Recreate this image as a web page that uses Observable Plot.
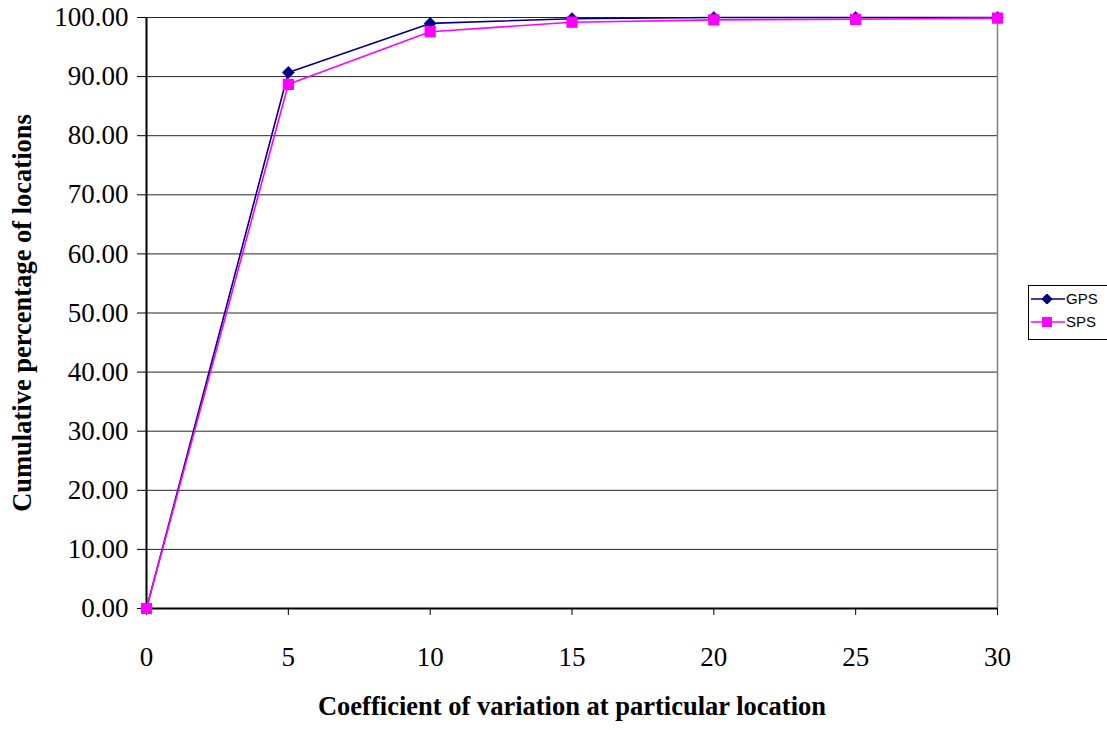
<!DOCTYPE html>
<html>
<head>
<meta charset="utf-8">
<script src="https://cdn.jsdelivr.net/npm/d3@7"></script>
<script src="https://cdn.jsdelivr.net/npm/@observablehq/plot@0.6"></script>
<style>
  html, body { margin: 0; padding: 0; background: #fff; }
  #wrap { position: relative; width: 1107px; height: 730px; }
  #legend { position: absolute; left: 1028px; top: 285px; width: 84px; height: 55px;
    border: 1px solid #000; background: #fff; font-family: "Liberation Sans", Arial, sans-serif; font-size: 15px; box-sizing: border-box; }
  .li { position: absolute; left: 2px; display: flex; align-items: center; }
  .li span { margin-left: 1px; }
</style>
</head>
<body>
<div id="wrap"></div>
<script>
const cv = [0, 5, 10, 15, 20, 25, 30];
const gps = [0, 90.7, 99.0, 99.8, 100, 100, 100];
const sps = [0, 88.7, 97.6, 99.2, 99.6, 99.7, 99.9];
const yTicks = [0, 10, 20, 30, 40, 50, 60, 70, 80, 90, 100];
const xTicks = [0, 5, 10, 15, 20, 25, 30];
const seriesNames = ["GPS", "SPS"];
const seriesColors = ["#000080", "#FF00FF"];

const gpsData = cv.map((x, i) => ({x, y: gps[i]}));
const spsData = cv.map((x, i) => ({x, y: sps[i]}));

const chart = Plot.plot({
  width: 1107,
  height: 730,
  marginLeft: 146,
  marginRight: 110,
  marginTop: 17,
  marginBottom: 122,
  style: { fontFamily: "'Liberation Serif', 'Times New Roman', serif", background: "#fff", overflow: "visible" },
  x: { domain: [0, 30], ticks: xTicks, label: null },
  y: { domain: [0, 100], ticks: yTicks, label: null },
  marks: [
    Plot.ruleY(yTicks.filter(d => d > 0), { stroke: "#000", strokeWidth: 1, strokeOpacity: 0.85 }),
    Plot.ruleX([30], { stroke: "#808080", strokeWidth: 1.5 }),
    Plot.axisY({ ticks: yTicks, tickFormat: d => d.toFixed(2), tickSize: 9, tickPadding: 9, fontSize: 27, label: null, stroke: "#000" }),
    Plot.axisX({ ticks: xTicks, tickFormat: d => String(d), tickSize: 7, tickPadding: 31, fontSize: 27, label: null, stroke: "#000" }),
    Plot.ruleX([0], { stroke: "#000", strokeWidth: 2 }),
    Plot.ruleY([0], { stroke: "#000", strokeWidth: 2 }),
    Plot.line(gpsData, { x: "x", y: "y", stroke: seriesColors[0], strokeWidth: 1.6 }),
    Plot.line(spsData, { x: "x", y: "y", stroke: seriesColors[1], strokeWidth: 1.6 }),
    Plot.dot(gpsData, { x: "x", y: "y", symbol: "diamond2", r: 5.5, fill: seriesColors[0], stroke: seriesColors[0], strokeWidth: 0.5 }),
    Plot.dot(spsData, { x: "x", y: "y", symbol: "square", r: 5.5, fill: seriesColors[1], stroke: seriesColors[1] }),
    Plot.text(["Coefficient of variation at particular location"], { frameAnchor: "bottom", dy: 106, fontSize: 26.5, fontWeight: "bold", fill: "#000" }),
    Plot.text(["Cumulative percentage of locations"], { frameAnchor: "left", textAnchor: "middle", dx: -124, rotate: -90, fontSize: 26.5, fontWeight: "bold", fill: "#000" })
  ]
});
document.getElementById("wrap").appendChild(chart);

// Legend
const legend = document.createElement("div");
legend.id = "legend";
seriesNames.forEach((name, i) => {
  const row = document.createElement("div");
  row.className = "li";
  row.style.top = (i === 0 ? 4 : 27) + "px";
  const sym = i === 0
    ? `<rect x="12" y="1" width="8" height="8" transform="rotate(45 16 5)" fill="${seriesColors[i]}"/>`
    : `<rect x="11" y="0" width="10" height="10" fill="${seriesColors[i]}"/>`;
  row.innerHTML = `<svg width="34" height="10"><line x1="0" y1="5" x2="34" y2="5" stroke="${seriesColors[i]}" stroke-width="1.5"/>${sym}</svg><span>${name}</span>`;
  legend.appendChild(row);
});
document.getElementById("wrap").appendChild(legend);
</script>
</body>
</html>
